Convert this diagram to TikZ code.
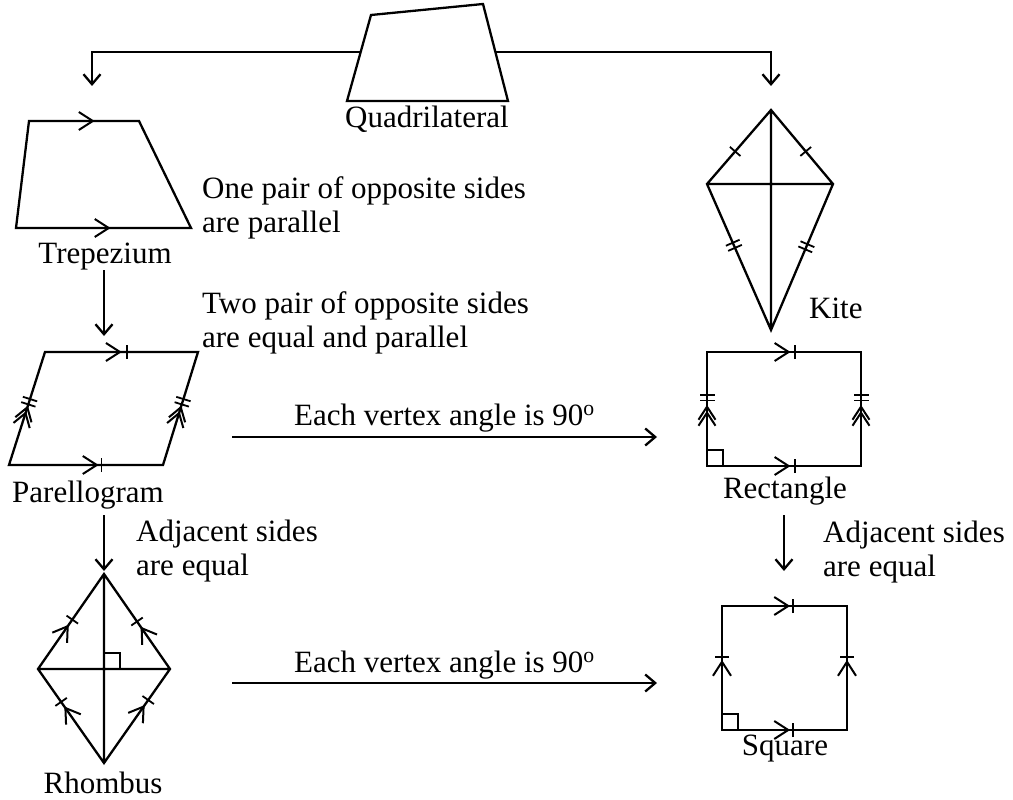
\documentclass[tikz,border=0pt]{standalone}
\usepackage{fontspec}
\setmainfont{Liberation Serif}
\usetikzlibrary{arrows.meta,decorations.markings}
\tikzset{
  conn/.style={-{Straight Barb[length=10pt,width=17pt]}},
  onechev/.style={postaction={decorate,decoration={markings,mark=at position #1 with {\draw[line width=2pt] (-14pt,9pt) -- (0pt,0pt) -- (-14pt,-9pt);}}}},
  twochev/.style={postaction={decorate,decoration={markings,mark=at position #1 with {\draw[line width=2pt] (-13pt,8.5pt) -- (0pt,0pt) -- (-13pt,-8.5pt) (-19pt,8.5pt) -- (-6pt,0pt) -- (-19pt,-8.5pt);}}}},
  onetick/.style={postaction={decorate,decoration={markings,mark=at position #1 with {\draw[line width=1.8pt] (0pt,-7pt) -- (0pt,7pt);}}}},
  twotick/.style={postaction={decorate,decoration={markings,mark=at position #1 with {\draw[line width=1.8pt] (-2.8pt,-7.5pt) -- (-2.8pt,7.5pt) (2.8pt,-7.5pt) -- (2.8pt,7.5pt);}}}},
  lbl/.style={inner sep=0pt,anchor=base},
  note/.style={inner sep=0pt,anchor=base west,align=left}
}
\begin{document}
\begin{tikzpicture}[x=1pt,y=-1pt,line width=2.3pt,line join=miter,
  font=\fontsize{31}{34}\selectfont]
  \useasboundingbox (0,0) rectangle (1013,800);
  % quadrilateral
  \draw (347,101) -- (371,15) -- (483,4) -- (508,101) -- cycle;
  \node[lbl] (quadname) at (427,128) {Quadrilateral};
  \coordinate (qa) at (360.7,52);
  \coordinate (qb) at (495.4,52);
  \coordinate (trapin) at (92,86);
  \coordinate (kitein) at (771,86);
  \draw[conn] (qa) -| (trapin);
  \draw[conn] (qb) -| (kitein);
  % trapezium
  \coordinate (t1) at (29,121); \coordinate (t2) at (139,121);
  \coordinate (t3) at (191,228); \coordinate (t4) at (16,228);
  \draw (t1) -- (t2) -- (t3) -- (t4) -- cycle;
  \path[onechev=.58] (t1) -- (t2);
  \path[onechev=.53] (t4) -- (t3);
  \node[lbl] (trapname) at (105,263) {Trepezium};
  \node[note] (trapnote) at (201,232) {One pair of opposite sides\\are parallel};
  % parallelogram
  \coordinate (p1) at (45,352); \coordinate (p2) at (198,352);
  \coordinate (p3) at (163,465); \coordinate (p4) at (9,465);
  \draw (p1) -- (p2) -- (p3) -- (p4) -- cycle;
  \path[onechev=.49,onetick=.535] (p1) -- (p2);
  \path[onechev=.57,onetick=.6] (p4) -- (p3);
  \path[twochev=.51,twotick=.56] (p4) -- (p1);
  \path[twochev=.51,twotick=.56] (p3) -- (p2);
  \node[lbl] (paraname) at (88,502) {Parellogram};
  \node[note] (paranote) at (201,347) {Two pair of opposite sides\\are equal and parallel};
  \coordinate (trapout) at (104,270); \coordinate (parain) at (104,336);
  \draw[conn] (trapout) -- (parain);
  % rhombus
  \coordinate (r1) at (104,574); \coordinate (r2) at (170,669);
  \coordinate (r3) at (104,763); \coordinate (r4) at (38,669);
  \coordinate (rc) at (104,669);
  \draw (r1) -- (r2) -- (r3) -- (r4) -- cycle (r1) -- (r3) (r4) -- (r2);
  \draw[line width=1.8pt] ([yshift=16pt]rc) -| ([xshift=16pt]rc);
  \path[onechev=.45,onetick=.52] (r4) -- (r1);
  \path[onechev=.43,onetick=.5] (r2) -- (r1);
  \path[onechev=.585,onetick=.65] (r3) -- (r4);
  \path[onechev=.6,onetick=.67] (r3) -- (r2);
  \node[lbl] (rhomname) at (103,793) {Rhombus};
  \node[note] (rhomnote) at (135,575) {Adjacent sides\\are equal};
  \coordinate (paraout) at (104,515); \coordinate (rhomin) at (104,571);
  \draw[conn] (paraout) -- (rhomin);
  % kite
  \coordinate (k1) at (771,110); \coordinate (k2) at (833,184);
  \coordinate (k3) at (771,330); \coordinate (k4) at (707,184);
  \draw (k1) -- (k2) -- (k3) -- (k4) -- cycle (k1) -- (k3) (k4) -- (k2);
  \path[onetick=.44] (k4) -- (k1);
  \path[onetick=.44] (k2) -- (k1);
  \path[twotick=.42] (k4) -- (k3);
  \path[twotick=.43] (k2) -- (k3);
  \node[lbl,anchor=base west] (kitename) at (808,318) {Kite};
  % rectangle
  \coordinate (e1) at (707,352); \coordinate (e2) at (861,352);
  \coordinate (e3) at (861,466); \coordinate (e4) at (707,466);
  \draw (e1) -- (e2) -- (e3) -- (e4) -- cycle;
  \draw[line width=1.8pt] ([yshift=16pt]e4) -| ([xshift=16pt]e4);
  \path[onechev=.53,onetick=.57] (e1) -- (e2);
  \path[onechev=.53,onetick=.57] (e4) -- (e3);
  \path[twochev=.52,twotick=.6] (e4) -- (e1);
  \path[twochev=.52,twotick=.6] (e3) -- (e2);
  \node[lbl] (rectname) at (785,498) {Rectangle};
  % square
  \coordinate (s1) at (722,606); \coordinate (s2) at (847,606);
  \coordinate (s3) at (847,730); \coordinate (s4) at (722,730);
  \draw (s1) -- (s2) -- (s3) -- (s4) -- cycle;
  \draw[line width=1.8pt] ([yshift=16pt]s4) -| ([xshift=16pt]s4);
  \path[onechev=.53,onetick=.57] (s1) -- (s2);
  \path[onechev=.53,onetick=.57] (s4) -- (s3);
  \path[onechev=.55,onetick=.59] (s4) -- (s1);
  \path[onechev=.55,onetick=.59] (s3) -- (s2);
  \node[lbl] (sqname) at (785,755) {Square};
  \node[note] (sqnote) at (822,576) {Adjacent sides\\are equal};
  \coordinate (rectout) at (784,515); \coordinate (sqin) at (784,571);
  \draw[conn] (rectout) -- (sqin);
  % horizontal links
  \coordinate (pararight) at (232,437); \coordinate (rectleft) at (657,437);
  \coordinate (rhomright) at (232,683); \coordinate (sqleft) at (657,683);
  \draw[conn] (pararight) -- node[lbl,yshift=12pt] (vertexa) {Each vertex angle is 90\textsuperscript{o}} (rectleft);
  \draw[conn] (rhomright) -- node[lbl,yshift=11pt] (vertexb) {Each vertex angle is 90\textsuperscript{o}} (sqleft);
\end{tikzpicture}
\end{document}
